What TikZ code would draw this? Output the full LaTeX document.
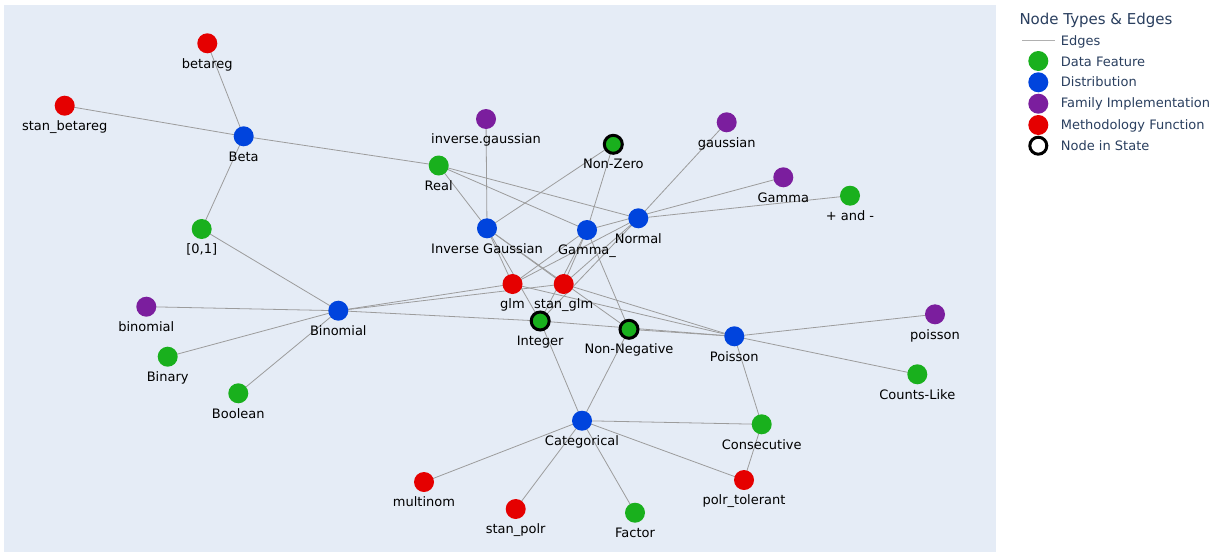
\documentclass[tikz,border=0pt]{standalone}
\usepackage{fontspec}
\setmainfont{DejaVu Sans}
\definecolor{bgc}{HTML}{E5ECF6}
\definecolor{cgreen}{HTML}{19B01D}
\definecolor{cblue}{HTML}{0044DD}
\definecolor{cpurple}{HTML}{7B1E9E}
\definecolor{cred}{HTML}{E50000}
\definecolor{legtxt}{HTML}{2A3F5F}
\definecolor{edgec}{HTML}{9C9C9C}
\pgfdeclarelayer{bglayer}
\pgfdeclarelayer{edgelayer}
\pgfsetlayers{bglayer,edgelayer,main}
\begin{document}
\begin{tikzpicture}[x=1pt,y=-1pt,
  nd/.style={circle,minimum size=20pt,inner sep=0pt,draw=none},
  feat/.style={nd,fill=cgreen},
  dist/.style={nd,fill=cblue},
  fam/.style={nd,fill=cpurple},
  meth/.style={nd,fill=cred},
  instate/.style={draw=black,line width=3pt,minimum size=18pt},
  lbl/.style={font=\fontsize{13}{15}\selectfont,text=black,anchor=base,inner sep=0pt,label distance=14.5pt},
  lblst/.style={lbl,label distance=14pt},
  edge/.style={draw=edgec,line width=0.8pt},
  legtext/.style={font=\fontsize{13}{15}\selectfont,text=legtxt,anchor=base west,inner sep=0pt},
  legdot/.style={circle,minimum size=20pt,inner sep=0pt,draw=none},
  ]
\useasboundingbox (0,0) rectangle (1218,557);
\begin{pgfonlayer}{bglayer}
\fill[white] (0,0) rectangle (1218,557);
\fill[bgc] (3.5,4.5) rectangle (996,551.7);
\end{pgfonlayer}

% nodes
\node[meth,label={[lbl]below:betareg}] (betareg) at (207.3,43.3) {};
\node[meth,label={[lbl]below:stan\_betareg}] (stanbetareg) at (64.7,105.7) {};
\node[dist,label={[lbl]below:Beta}] (beta) at (243.7,136.3) {};
\node[feat,label={[lbl]below:{[0,1]}}] (zeroone) at (201.7,229) {};
\node[fam,label={[lbl]below:binomial}] (binomialf) at (146.3,306.7) {};
\node[dist,label={[lbl]below:Binomial}] (binomial) at (338.3,310.7) {};
\node[feat,label={[lbl]below:Binary}] (binary) at (167.7,356.7) {};
\node[feat,label={[lbl]below:Boolean}] (boolean) at (238.3,393.3) {};
\node[fam,label={[lbl]below:inverse.gaussian}] (invgaussf) at (486,119) {};
\node[feat,label={[lbl]below:Real}] (real) at (438.7,165.5) {};
\node[feat,instate,label={[lblst]below:Non-Zero}] (nonzero) at (613.3,144.3) {};
\node[fam,label={[lbl]below:gaussian}] (gaussianf) at (726.7,122.3) {};
\node[fam,label={[lbl]below:Gamma}] (gammaf) at (783.3,177.3) {};
\node[feat,label={[lbl]below:+ and -}] (plusminus) at (850,195.7) {};
\node[dist,label={[lbl]below:Normal}] (normal) at (638.3,218.3) {};
\node[dist,label={[lbl]below:Gamma\_}] (gammad) at (587,230) {};
\node[dist,label={[lbl]below:Inverse Gaussian}] (invgauss) at (487,228.3) {};
\node[meth,label={[lbl]below:glm}] (glm) at (512.5,284) {};
\node[meth,label={[lbl]below:stan\_glm}] (stanglm) at (563.7,284) {};
\node[feat,instate,label={[lblst]below:Integer}] (integer) at (540.2,321) {};
\node[feat,instate,label={[lblst]below:Non-Negative}] (nonneg) at (629,329.3) {};
\node[dist,label={[lbl]below:Poisson}] (poisson) at (734.3,336.3) {};
\node[fam,label={[lbl]below:poisson}] (poissonf) at (935,314.3) {};
\node[feat,label={[lbl]below:Counts-Like}] (counts) at (917.3,374.3) {};
\node[dist,label={[lbl]below:Categorical}] (categorical) at (582,420.7) {};
\node[feat,label={[lbl]below:Consecutive}] (consecutive) at (761.7,424.3) {};
\node[meth,label={[lbl]below:multinom}] (multinom) at (424,482) {};
\node[meth,label={[lbl]below:stan\_polr}] (stanpolr) at (515.7,509) {};
\node[feat,label={[lbl]below:Factor}] (factor) at (635,512.7) {};
\node[meth,label={[lbl]below:polr\_tolerant}] (polrtol) at (744,480) {};

% edges
\begin{pgfonlayer}{edgelayer}
\foreach \a/\b in {betareg/beta, stanbetareg/beta, beta/real, beta/zeroone,
  zeroone/binomial, binomialf/binomial, binary/binomial, boolean/binomial,
  binomial/glm, binomial/stanglm, binomial/integer,
  invgaussf/invgauss, real/invgauss, real/gammad, real/normal,
  nonzero/invgauss, nonzero/gammad, gaussianf/normal, gammad/gammaf,
  normal/plusminus, invgauss/glm, invgauss/stanglm, invgauss/nonneg,
  invgauss/integer, gammad/glm, gammad/stanglm, gammad/nonneg, gammad/integer,
  normal/glm, normal/stanglm, normal/integer,
  glm/poisson, stanglm/poisson, integer/poisson, nonneg/poisson,
  poisson/poissonf, poisson/counts, poisson/consecutive,
  integer/categorical, nonneg/categorical, categorical/consecutive,
  categorical/multinom, categorical/stanpolr, categorical/factor,
  categorical/polrtol, consecutive/polrtol}
  \draw[edge] (\a.center) -- (\b.center);
\end{pgfonlayer}

% legend
\node[font=\fontsize{15}{17}\selectfont,text=legtxt,anchor=base west,inner sep=0pt] (legtitle) at (1019.3,24) {Node Types \& Edges};
\coordinate (le1) at (1022,40.7);
\coordinate (le2) at (1055,40.7);
\draw[draw=edgec!80,line width=1pt] (le1) -- (le2);
\node[legtext] (lt0) at (1060.7,45.7) {Edges};
\node[legdot,fill=cgreen] (ld1) at (1038.3,61) {};
\node[legtext] (lt1) at (1060.7,66) {Data Feature};
\node[legdot,fill=cblue] (ld2) at (1038.3,82.3) {};
\node[legtext] (lt2) at (1060.7,86.7) {Distribution};
\node[legdot,fill=cpurple] (ld3) at (1038.3,103.7) {};
\node[legtext] (lt3) at (1060.7,107.7) {Family Implementation};
\node[legdot,fill=cred] (ld4) at (1038.3,125) {};
\node[legtext] (lt4) at (1060.7,129) {Methodology Function};
\node[legdot,fill=white,draw=black,line width=3pt,minimum size=17pt] (ld5) at (1038.3,145.7) {};
\node[legtext] (lt5) at (1060.7,150) {Node in State};
\end{tikzpicture}
\end{document}
